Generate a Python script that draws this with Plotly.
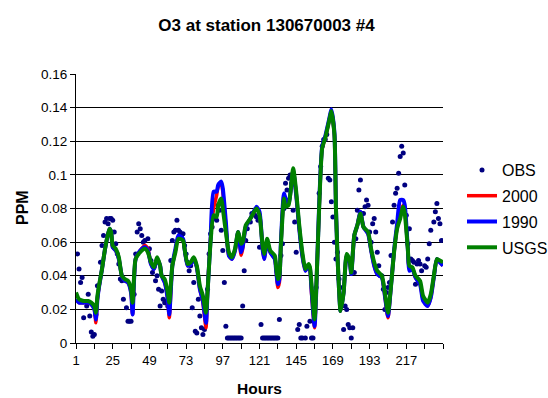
import plotly.graph_objects as go

# ---- data ----
line_hours = [
    1, 3, 6, 9, 11, 13, 14, 15, 16, 18,
    20, 22, 23, 24, 25, 27, 29, 31, 33, 35,
    37, 38, 39, 40, 43, 46, 48, 50, 52, 54,
    56, 57, 59, 61, 62, 64, 66, 68, 71, 72,
    74, 76, 78, 80, 82, 84, 86, 87, 89, 91,
    93, 94, 96, 97, 99, 101, 103, 105, 107, 109,
    110, 112, 115, 119, 121, 123, 124, 126, 128, 131,
    132, 133, 134, 135, 137, 138, 140, 143, 145, 147,
    149, 151, 153, 154, 155, 157, 158, 160, 162, 164,
    167, 168, 170, 171, 172, 173, 174, 176, 178, 180,
    181, 183, 185, 187, 189, 192, 194, 196, 198, 201,
    203, 205, 207, 209, 211, 213, 215, 216, 218, 219,
    221, 223, 226, 228, 231, 233, 235, 237, 239, 241,
]

usgs = [
    .030, .026, .025, .025, .024, .022, .018, .028, .034, .044,
    .056, .065, .068, .066, .058, .056, .051, .040, .038, .037,
    .032, .024, .040, .050, .054, .056, .054, .048, .045, .051,
    .046, .040, .038, .030, .024, .046, .054, .062, .061, .056,
    .047, .048, .051, .046, .034, .028, .018, .030, .060, .076,
    .075, .082, .086, .080, .066, .054, .051, .056, .066, .059,
    .060, .070, .074, .080, .076, .058, .053, .062, .055, .052,
    .044, .038, .040, .058, .086, .081, .082, .104, .090, .070,
    .054, .044, .047, .045, .035, .014, .030, .080, .116, .122,
    .134, .138, .124, .080, .052, .032, .019, .030, .053, .049,
    .042, .064, .070, .077, .069, .066, .056, .048, .043, .040,
    .030, .018, .034, .054, .068, .074, .081, .077, .056, .046,
    .045, .040, .037, .028, .024, .029, .040, .050, .049, .048,
]

y2000 = [
    .026, .024, .024, .024, .023, .020, .012, .026, .033, .044,
    .056, .065, .068, .066, .057, .055, .050, .040, .037, .036,
    .030, .017, .038, .050, .055, .058, .056, .047, .044, .050,
    .046, .040, .036, .026, .015, .046, .055, .063, .061, .056,
    .046, .047, .050, .045, .032, .024, .009, .030, .062, .080,
    .088, .093, .095, .090, .070, .052, .050, .055, .066, .052,
    .056, .069, .074, .080, .077, .056, .050, .060, .054, .050,
    .042, .033, .036, .058, .088, .084, .083, .103, .088, .068,
    .052, .043, .046, .044, .030, .009, .028, .080, .116, .122,
    .134, .138, .124, .080, .052, .032, .019, .030, .052, .048,
    .041, .064, .070, .078, .069, .065, .055, .046, .041, .039,
    .028, .015, .034, .054, .069, .078, .082, .079, .056, .044,
    .044, .039, .035, .026, .022, .027, .039, .050, .048, .046,
]

y1990 = [
    .026, .024, .024, .024, .023, .020, .014, .026, .033, .044,
    .056, .065, .068, .066, .057, .055, .050, .040, .037, .036,
    .030, .017, .038, .050, .055, .057, .055, .047, .044, .050,
    .046, .040, .036, .026, .017, .046, .056, .064, .062, .056,
    .046, .047, .050, .045, .032, .025, .012, .030, .062, .090,
    .090, .094, .096, .092, .072, .052, .050, .055, .066, .054,
    .057, .069, .074, .081, .078, .056, .050, .060, .054, .050,
    .042, .035, .038, .060, .089, .086, .083, .102, .088, .068,
    .052, .043, .046, .044, .032, .010, .028, .082, .117, .123,
    .135, .139, .125, .080, .052, .032, .019, .030, .052, .048,
    .041, .064, .070, .078, .069, .065, .055, .046, .041, .039,
    .028, .016, .034, .055, .071, .085, .085, .082, .056, .043,
    .044, .039, .035, .025, .022, .027, .039, .050, .048, .046,
]

obs_hours = [
    2, 3, 4, 5, 6, 8, 9, 10, 11, 12, 13, 14, 15,
    17, 18, 19, 20, 21, 22, 23, 24, 25, 26, 27, 28, 29, 30, 31, 32, 34, 35, 36, 37, 39,
    40, 41, 42, 43, 44, 45, 46, 48, 49, 50, 51, 52, 53, 54, 55, 56, 57, 58, 59, 60,
    61, 62, 63, 64, 65, 66, 67, 68, 69, 70, 71, 72, 73, 74, 75, 76, 77, 78, 79, 80,
    81, 82, 83, 84, 85, 87, 88, 89, 90, 91, 92, 93, 94, 95, 96, 97, 98, 99,
    100, 101, 102, 103, 104, 105, 106, 107, 108, 109, 110, 111, 112, 113, 115, 116,
    118, 119, 120, 121, 122, 123, 124, 125, 126, 127, 128, 129, 130, 131, 132, 133,
    134, 135, 136, 137, 138, 139, 140, 141, 142, 143, 144, 145, 146, 147, 148, 149,
    151, 152, 154, 155, 156, 157, 158, 160, 161, 162, 163, 164, 165, 166, 167, 168,
    169, 170, 171, 172, 173, 174, 175, 176, 177, 178, 179, 180, 181, 182, 183, 184,
    185, 186, 187, 188, 189, 190, 191, 192, 193, 194, 195, 196, 197, 198, 199, 200,
    201, 202, 203, 204, 205, 206, 207, 208, 209, 210, 211, 212, 213, 214, 215, 216,
    217, 218, 219, 220, 221, 222, 223, 224, 225, 226, 227, 229, 230, 231, 232, 233,
    235, 236, 237, 238, 239, 240,
]

obs = [
    .053, .044, .036, .039, .015, .022, .029, .016, .0066, .004, .005, .017, .034,
    .048, .058, .064, .072, .074, .071, .074, .074, .073, .066, .059, .053, .047, .038, .037, .026, .021, .013, .013, .013, .029,
    .053, .066, .071, .068, .064, .060, .061, .062, .056, .049, .042, .045, .037, .040, .032, .022, .031, .026, .024, .025,
    .022, .032, .049, .061, .066, .067, .073, .067, .066, .064, .065, .058, .053, .048, .043, .046, .021, .036, .007, .006,
    .026, .016, .009, .005, .008, .032, .053, .065, .069, .075, .074, .073, .082, .079, .067, .055, .036, .010,
    .003, .003, .003, .003, .003, .003, .003, .003, .003, .003, .022, .043, .061, .068, .072, .077,
    .076, .075, .073, .057, .011, .003, .003, .003, .003, .003, .003, .003, .003, .003, .003, .003,
    .014, .052, .059, .080, .095, .091, .098, .100, .095, .079, .072, .054, .008, .011, .003, .003,
    .003, .010, .013, .003, .003, .027, .033, .089, .105, .117, .121, .121, .124, .098, .097, .084,
    .075, .060, .050, .054, .038, .033, .022, .008, .022, .020, .011, .009, .003, .009, .042, .062,
    .079, .091, .097, .077, .077, .081, .085, .082, .066, .060, .071, .074, .066, .054, .046, .040,
    .040, .032, .020, .030, .033, .036, .052, .072, .082, .089, .092, .101, .111, .117, .113, .094,
    .076, .059, .068, .050, .049, .048, .035, .047, .049, .047, .043, .046, .045, .050, .059, .067,
    .072, .078, .083, .074, .071, .061,
]

y_ticks = [0, 0.02, 0.04, 0.06, 0.08, 0.1, 0.12, 0.14, 0.16]
y_tick_text = ["0", "0.02", "0.04", "0.06", "0.08", "0.1", "0.12", "0.14", "0.16"]
x_tick_vals = list(range(1, 242, 12))
x_tick_text = [str(v) if (v - 1) % 24 == 0 and v < 241 else "" for v in x_tick_vals]

FONT = "Liberation Sans, Arial, sans-serif"

fig = go.Figure()
fig.add_trace(go.Scatter(
    x=obs_hours, y=obs, mode="markers", name="OBS",
    marker=dict(color="#000080", size=5), legendgroup="a",
))
fig.add_trace(go.Scatter(
    x=line_hours, y=y2000, mode="lines", name="2000",
    line=dict(color="#FF0000", width=3.5, shape="spline", smoothing=0.6), legendgroup="b",
))
fig.add_trace(go.Scatter(
    x=line_hours, y=y1990, mode="lines", name="1990",
    line=dict(color="#0000FF", width=4, shape="spline", smoothing=0.6), legendgroup="c",
))
fig.add_trace(go.Scatter(
    x=line_hours, y=usgs, mode="lines", name="USGS",
    line=dict(color="#008000", width=4, shape="spline", smoothing=0.6), legendgroup="d",
))

fig.update_layout(
    width=548, height=398,
    margin=dict(l=76, r=105, t=74, b=55, autoexpand=False),
    paper_bgcolor="white", plot_bgcolor="white",
    font=dict(family=FONT, size=13, color="black"),
    showlegend=True,
    title=dict(text="<b>O3 at station 130670003 #4</b>", x=(157 + 376) / 2 / 548, xanchor="center",
               y=1 - 25 / 398, yanchor="middle", font=dict(size=17, family=FONT)),
    legend=dict(x=(462 - 76) / 367, xanchor="left", y=(343 - 209) / 269, yanchor="middle",
                font=dict(size=16, family=FONT), tracegroupgap=2,
                bgcolor="rgba(0,0,0,0)", borderwidth=0),
    xaxis=dict(range=[1, 241], tickvals=x_tick_vals, ticktext=x_tick_text,
               showgrid=False, zeroline=False, showline=True, linecolor="black", linewidth=1,
               ticks="outside", ticklen=5, tickcolor="black", tickfont=dict(size=13)),
    yaxis=dict(range=[0, 0.16], tickvals=y_ticks, ticktext=y_tick_text,
               showgrid=True, gridcolor="black", gridwidth=1, zeroline=False,
               showline=True, linecolor="black", linewidth=1,
               ticks="outside", ticklen=5, tickcolor="black", tickfont=dict(size=13.5)),
    annotations=[
        dict(text="<b>PPM</b>", xref="paper", yref="paper", x=(22 - 76) / 367, y=(343 - 208) / 269,
             xanchor="center", yanchor="middle",
             textangle=-90, showarrow=False, font=dict(size=16, family=FONT)),
        dict(text="<b>Hours</b>", xref="paper", yref="paper", x=(259 - 76) / 367, y=(343 - 388) / 269,
             xanchor="center", yanchor="middle",
             showarrow=False, font=dict(size=15.5, family=FONT)),
    ],
)

fig.write_html("out.html")
